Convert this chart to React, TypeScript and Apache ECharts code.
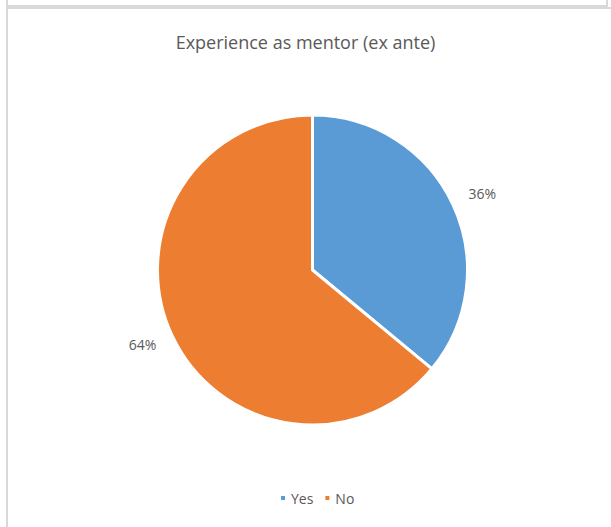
import React, { useEffect, useRef } from "react";
import * as echarts from "echarts";

const title = "Experience as mentor (ex ante)";
const categories = ["Yes", "No"];
const values = [36, 64];
const colors = ["#5B9BD5", "#ED7D31"];

export default function App() {
  const ref = useRef<HTMLDivElement>(null);
  useEffect(() => {
    if (!ref.current) return;
    const chart = echarts.init(ref.current, null, { renderer: "svg" });
    chart.setOption({
      animation: false,
      backgroundColor: "transparent",
      textStyle: { fontFamily: "Open Sans" },
      title: {
        text: title,
        left: "center",
        top: 28,
        textStyle: { fontSize: 18, fontWeight: "normal", color: "#595959", fontFamily: "Open Sans" },
      },
      legend: {
        top: 486,
        left: 274,
        icon: "rect",
        itemWidth: 6,
        itemHeight: 6,
        itemGap: 10,
        textStyle: { fontSize: 14, color: "#595959", fontFamily: "Open Sans", padding: [0, 0, 0, 0] },
        data: categories,
      },
      series: [
        {
          type: "pie",
          center: [312.5, 270],
          radius: [0, 155],
          startAngle: 90,
          clockwise: true,
          itemStyle: { borderColor: "#fff", borderWidth: 3 },
          label: {
            show: true,
            position: "outside",
            formatter: "{d}%",
            fontSize: 14,
            color: "#595959",
            fontFamily: "Open Sans",
          },
          labelLine: { show: false, length: 12, length2: 0 },
          labelLayout: (p: any) => ({ dy: p.dataIndex === 0 ? -5 : 3 }),
          emphasis: { disabled: true },
          data: categories.map((c, i) => ({ name: c, value: values[i], itemStyle: { color: colors[i] } })),
        },
      ],
    });
    return () => chart.dispose();
  }, []);
  return (
    <div style={{ position: "absolute", left: 0, top: 0, width: 611, height: 527, background: "#fff", overflow: "hidden" }}>
      <div style={{ position: "absolute", left: 6, top: -10, width: 598, height: 13, border: "2px solid #d9d9d9", boxSizing: "content-box" }} />
      <div style={{ position: "absolute", left: 6, top: 7, width: 620, height: 540, borderLeft: "2px solid #d9d9d9", borderTop: "2px solid #d9d9d9" }} />
      <div ref={ref} style={{ position: "absolute", left: 0, top: 0, width: 611, height: 527 }} />
    </div>
  );
}
